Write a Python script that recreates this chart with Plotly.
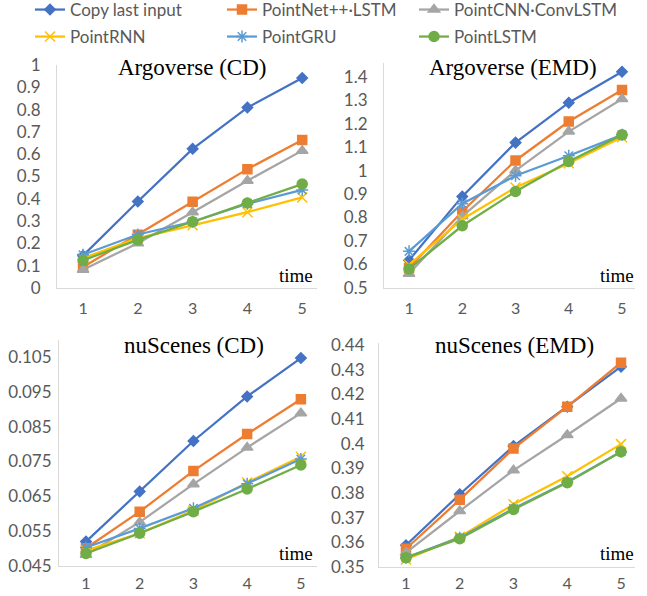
import plotly.graph_objects as go

W, H = 647, 596

# ---------------- data ----------------
times = [1, 2, 3, 4, 5]
time_ticks = ["1", "2", "3", "4", "5"]

series_names = ["Copy last input", "PointNet++·LSTM", "PointCNN·ConvLSTM",
                "PointRNN", "PointGRU", "PointLSTM"]

# Argoverse (CD)
argo_cd_copy = [0.145, 0.388, 0.624, 0.809, 0.942]
argo_cd_pointnet = [0.094, 0.239, 0.387, 0.533, 0.664]
argo_cd_pointcnn = [0.082, 0.201, 0.340, 0.481, 0.616]
argo_cd_rnn = [0.134, 0.224, 0.281, 0.340, 0.406]
argo_cd_gru = [0.149, 0.240, 0.297, 0.378, 0.440]
argo_cd_lstm = [0.124, 0.216, 0.297, 0.381, 0.466]

# Argoverse (EMD)
argo_emd_copy = [0.618, 0.890, 1.119, 1.289, 1.421]
argo_emd_pointnet = [0.585, 0.826, 1.043, 1.209, 1.343]
argo_emd_pointcnn = [0.561, 0.805, 1.000, 1.166, 1.305]
argo_emd_rnn = [0.599, 0.793, 0.928, 1.031, 1.142]
argo_emd_gru = [0.656, 0.859, 0.978, 1.063, 1.152]
argo_emd_lstm = [0.581, 0.765, 0.911, 1.039, 1.152]

# nuScenes (CD)
nu_cd_copy = [0.0520, 0.0664, 0.0809, 0.0937, 0.1047]
nu_cd_pointnet = [0.0501, 0.0606, 0.0723, 0.0829, 0.0929]
nu_cd_pointcnn = [0.0482, 0.0576, 0.0685, 0.0790, 0.0889]
nu_cd_rnn = [0.0494, 0.0544, 0.0609, 0.0690, 0.0764]
nu_cd_gru = [0.0503, 0.0558, 0.0616, 0.0686, 0.0757]
nu_cd_lstm = [0.0486, 0.0544, 0.0606, 0.0671, 0.0740]

# nuScenes (EMD)
nu_emd_copy = [0.3588, 0.3795, 0.3990, 0.4150, 0.4312]
nu_emd_pointnet = [0.3574, 0.3773, 0.3980, 0.4150, 0.4328]
nu_emd_pointcnn = [0.3558, 0.3727, 0.3892, 0.4035, 0.4183]
nu_emd_rnn = [0.3531, 0.3622, 0.3754, 0.3868, 0.3998]
nu_emd_gru = [0.3538, 0.3619, 0.3737, 0.3845, 0.3967]
nu_emd_lstm = [0.3538, 0.3615, 0.3733, 0.3842, 0.3967]

panel_titles = ["Argoverse (CD)", "Argoverse (EMD)", "nuScenes (CD)", "nuScenes (EMD)"]
x_axis_label = "time"

argo_cd_yticks = [0, 0.1, 0.2, 0.3, 0.4, 0.5, 0.6, 0.7, 0.8, 0.9, 1]
argo_cd_ylabels = ["0", "0.1", "0.2", "0.3", "0.4", "0.5", "0.6", "0.7", "0.8", "0.9", "1"]
argo_emd_yticks = [0.5, 0.6, 0.7, 0.8, 0.9, 1.0, 1.1, 1.2, 1.3, 1.4]
argo_emd_ylabels = ["0.5", "0.6", "0.7", "0.8", "0.9", "1", "1.1", "1.2", "1.3", "1.4"]
nu_cd_yticks = [0.045, 0.055, 0.065, 0.075, 0.085, 0.095, 0.105]
nu_cd_ylabels = ["0.045", "0.055", "0.065", "0.075", "0.085", "0.095", "0.105"]
nu_emd_yticks = [0.35, 0.36, 0.37, 0.38, 0.39, 0.40, 0.41, 0.42, 0.43, 0.44]
nu_emd_ylabels = ["0.35", "0.36", "0.37", "0.38", "0.39", "0.4", "0.41", "0.42", "0.43", "0.44"]

# ---------------- styles ----------------
colors = ["#4472C4", "#ED7D31", "#A5A5A5", "#FFC000", "#5B9BD5", "#70AD47"]
symbols = ["diamond", "square", "triangle-up", "x-thin-open", "asterisk-open", "circle"]
msizes = [8, 9, 10, 10, 10, 10]
legend_of_series = ["legend", "legend", "legend", "legend2", "legend2", "legend2"]
legend_widths = [None, None, 175, None, None, None]

panel_data = [
    [argo_cd_copy, argo_cd_pointnet, argo_cd_pointcnn, argo_cd_rnn, argo_cd_gru, argo_cd_lstm],
    [argo_emd_copy, argo_emd_pointnet, argo_emd_pointcnn, argo_emd_rnn, argo_emd_gru, argo_emd_lstm],
    [nu_cd_copy, nu_cd_pointnet, nu_cd_pointcnn, nu_cd_rnn, nu_cd_gru, nu_cd_lstm],
    [nu_emd_copy, nu_emd_pointnet, nu_emd_pointcnn, nu_emd_rnn, nu_emd_gru, nu_emd_lstm],
]

# layout geometry in pixels
panels = [
    dict(xd=(57, 317), yd=(288, 65), xr=(0.525, 5.27), yr=(0, 1.0), xtl=6, ytl=12,
         yt=argo_cd_yticks, yl=argo_cd_ylabels, tpos=(192, 67), lpos=(296, 275)),
    dict(xd=(384, 635), yd=(288, 63), xr=(0.53, 5.244), yr=(0.5, 1.458), xtl=6, ytl=12,
         yt=argo_emd_yticks, yl=argo_emd_ylabels, tpos=(513, 67), lpos=(617, 275)),
    dict(xd=(59, 317), yd=(566, 340), xr=(0.498, 5.30), yr=(0.045, 0.1099), xtl=3, ytl=3,
         yt=nu_cd_yticks, yl=nu_cd_ylabels, tpos=(194, 345), lpos=(296, 553)),
    dict(xd=(379, 635), yd=(567, 343), xr=(0.498, 5.26), yr=(0.35, 0.4408), xtl=2, ytl=10,
         yt=nu_emd_yticks, yl=nu_emd_ylabels, tpos=(514, 345), lpos=(617, 553)),
]

ytick_font = dict(family="Lato", size=17, color="#595959")
xtick_font = dict(family="Lato", size=16, color="#595959")
legend_font = dict(family="Lato", size=17, color="#595959")
axis_color = "#D9D9D9"

fig = go.Figure()
layout = dict(
    width=W, height=H,
    margin=dict(l=0, r=0, t=0, b=0, autoexpand=False),
    plot_bgcolor="white", paper_bgcolor="white",
    showlegend=True,
    legend=dict(orientation="h", x=30 / W, y=1 - 10 / H, xanchor="left", yanchor="middle",
                font=legend_font, entrywidth=147, bgcolor="rgba(0,0,0,0)", traceorder="normal"),
    legend2=dict(orientation="h", x=30 / W, y=1 - 37 / H, xanchor="left", yanchor="middle",
                 font=legend_font, entrywidth=147, bgcolor="rgba(0,0,0,0)", traceorder="normal"),
    annotations=[],
)

for i, p in enumerate(panels):
    xa = "xaxis" if i == 0 else f"xaxis{i+1}"
    ya = "yaxis" if i == 0 else f"yaxis{i+1}"
    xref = "x" if i == 0 else f"x{i+1}"
    yref = "y" if i == 0 else f"y{i+1}"
    layout[xa] = dict(domain=[p["xd"][0] / W, p["xd"][1] / W], range=list(p["xr"]),
                      anchor=yref, tickvals=times, ticktext=time_ticks,
                      showgrid=False, zeroline=False, showline=True,
                      linecolor=axis_color, linewidth=1,
                      ticks="outside", ticklen=p["xtl"], tickcolor="rgba(0,0,0,0)",
                      tickfont=xtick_font, fixedrange=True)
    layout[ya] = dict(domain=[1 - p["yd"][0] / H, 1 - p["yd"][1] / H], range=list(p["yr"]),
                      anchor=xref, tickvals=p["yt"], ticktext=p["yl"],
                      showgrid=False, zeroline=False, showline=True,
                      linecolor=axis_color, linewidth=1,
                      ticks="outside", ticklen=p["ytl"], tickcolor="rgba(0,0,0,0)",
                      tickfont=ytick_font, fixedrange=True)
    for j, vals in enumerate(panel_data[i]):
        tr = go.Scatter(
            x=times, y=vals, name=series_names[j], mode="lines+markers",
            xaxis=xref, yaxis=yref, legendgroup=series_names[j], showlegend=(i == 0),
            legend=legend_of_series[j],
            line=dict(color=colors[j], width=2.25),
            marker=dict(symbol=symbols[j], size=msizes[j], color=colors[j],
                        line=dict(color=colors[j], width=1.5)),
            cliponaxis=False,
        )
        if legend_widths[j] is not None:
            tr.legendwidth = legend_widths[j]
        fig.add_trace(tr)
    layout["annotations"].append(dict(
        text=panel_titles[i], xref="paper", yref="paper",
        x=p["tpos"][0] / W, y=1 - p["tpos"][1] / H, xanchor="center", yanchor="middle",
        showarrow=False, font=dict(family="Liberation Serif", size=23, color="black")))
    layout["annotations"].append(dict(
        text=x_axis_label, xref="paper", yref="paper",
        x=p["lpos"][0] / W, y=1 - p["lpos"][1] / H, xanchor="center", yanchor="middle",
        showarrow=False, font=dict(family="Liberation Serif", size=19, color="black")))

fig.update_layout(**layout)
fig.write_html("out.html", config={"displayModeBar": False},
               post_script="document.body.style.margin='0px';")
